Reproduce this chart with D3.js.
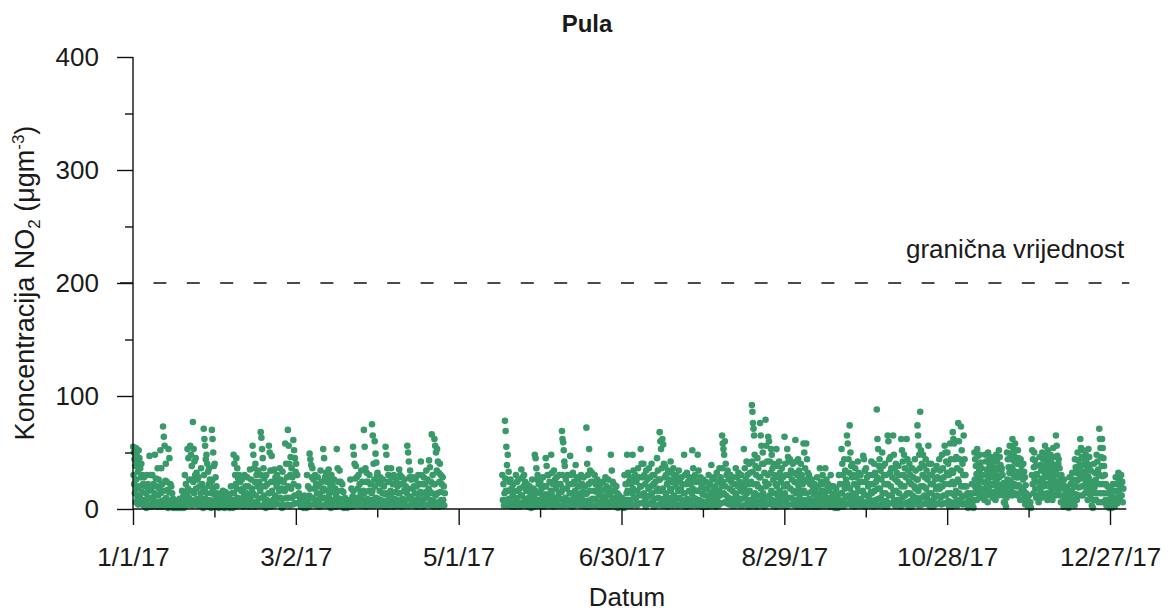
<!DOCTYPE html>
<html>
<head>
<meta charset="utf-8">
<script src="https://cdn.jsdelivr.net/npm/d3@7"></script>
<style>
  body { margin: 0; background: #fff; }
  svg text { font-family: "Liberation Sans", Arial, sans-serif; fill: #1a1a1a; }
</style>
</head>
<body>
<div id="chart"></div>
<script>
// NO2 readings per day (several readings through each day)
const jan = [
  [55,50,44,38,30,22,14,6],[54,48,40,33,26,18,10,4],[52,45,36,28,20,12,5],[40,30,22,15,8,3],
  [28,20,14,8,3,1],[30,22,16,9,4,2],[47,30,18,10,4,2],[30,22,14,8,3],[48,27,20,12,6,2],
  [36,26,18,12,6,2],[52,36,22,14,7,2],[73,64,56,25,16,8,3],[40,24,17,10,4,1],[53,45,22,15,7,2],
  [20,14,9,5,2,1],[8,5,3,1],[6,4,2,1],[9,6,3,1],[16,11,6,3,1],[30,22,14,8,3],[53,45,26,18,10,4],
  [56,48,38,26,16,8,3],[77,53,42,30,24,14,5],[45,32,26,18,9,3],[28,20,14,8,3],[36,22,15,9,4,1],
  [71,62,56,44,30,18,9,3],[48,40,33,22,14,6,2],[36,26,20,14,8,3,1],[70,62,50,38,25,16,7,2],[40,28,20,12,6,2]
];
const feb = [
  [14,10,6,3,1],[12,8,5,2],[16,11,7,3,1],[15,10,6,2],[13,9,5,2,1],[20,14,8,4,1],[48,40,30,22,14,7,2],
  [45,36,27,18,10,4],[30,24,16,9,3],[26,18,12,6,2],[30,20,14,8,3],[28,20,13,7,2],[35,26,18,10,4],
  [56,48,36,24,14,6,2],[40,30,20,12,5],[34,24,16,9,3],[68,63,53,45,30,20,10,3],[36,27,20,12,5,1],
  [30,22,14,8,3],[56,50,34,24,14,6,2],[47,34,24,16,8,3],[35,28,20,12,5],[30,24,16,10,4],
  [36,26,18,10,4,1],[33,24,16,9,3],[58,40,28,18,10,4],[70,56,40,30,20,10,3],[46,36,28,18,10,4]
];
const mar = [
  [61,52,45,33,22,12,5],[40,30,20,12,5],[14,9,5,2],[10,6,3,1],[12,8,4,1],[30,20,12,6,2],
  [49,44,39,28,18,10,4],[36,26,18,10,4],[30,22,14,8,3],[28,20,12,6,2],[34,24,16,9,3],
  [53,45,28,18,10,4],[32,24,16,9,3],[35,27,20,12,5,1],[30,22,15,8,3],[26,18,12,6,2],
  [53,36,24,16,8,3],[34,24,16,9,3],[22,15,9,4,1],[10,6,3,1],[8,5,2],[26,18,11,5,2],
  [55,48,40,27,16,8,3],[38,28,18,10,4],[30,22,14,8,3],[34,24,16,9,3],[70,55,36,24,14,6,2],
  [32,24,16,9,3],[30,22,14,8,3],[75,65,40,26,16,8,3],[60,49,41,30,20,10,4]
];
const apr = [
  [32,24,16,9,3],[28,22,14,8,3],[26,20,13,7,2],[55,48,36,24,14,6,2],[30,24,16,10,4],
  [36,28,22,14,7,2],[30,22,15,9,3],[26,20,14,8,3],[35,30,22,14,7,2],[28,22,16,9,3],
  [26,20,14,8,3],[56,50,42,28,18,9,3],[34,26,18,11,4],[28,20,14,8,3],[26,20,13,7,2],
  [30,22,15,9,3],[42,30,22,14,7,2],[28,22,15,9,3],[34,26,18,11,4],[43,37,24,16,8,3],
  [66,30,22,14,7,2],[62,56,50,34,22,12,5],[53,42,32,24,14,6,2],[40,30,22,15,8,3],[28,20,14,8,3]
];
const may = [
  [30,22,14,8,3],[78,69,55,39,27,16,8,3],[48,33,24,16,9,3],[26,18,12,6,2],[22,16,10,5,2],
  [30,24,16,9,3],[26,18,12,6,2],[35,28,20,12,5],[30,24,16,9,3],[22,16,10,5,2],[20,14,9,4,1],
  [26,18,12,6,2],[48,45,36,26,16,8,3],[30,22,14,8,3],[24,18,12,6,2]
];
const jun = [
  [28,20,13,7,2],[45,38,30,20,12,5],[30,24,16,9,3],[48,32,22,14,7,2],[34,26,18,10,4],
  [28,22,14,8,3],[30,22,15,9,3],[69,62,59,52,42,30,18,8,3],[38,26,18,10,4],[30,22,14,8,3],
  [47,30,22,14,7,2],[32,24,16,9,3],[39,28,20,12,5],[26,20,14,8,3],[30,22,15,9,3],[28,20,13,7,2],
  [72,40,30,22,14,7,2],[53,34,24,16,8,3],[32,24,16,9,3],[30,22,15,9,3],[26,18,12,6,2],
  [22,16,10,5,2],[24,17,11,5,2],[28,20,13,7,2],[26,18,12,6,2],[48,34,24,16,8,3],[22,16,10,5,2],
  [20,14,8,4,1],[12,8,4,2],[10,6,3,1]
];
const jul = [
  [30,22,14,8,3],[48,32,24,16,8,3],[28,22,14,8,3],[48,34,26,18,10,4],[30,24,16,9,3],
  [36,28,20,12,5],[53,40,28,20,12,5],[40,30,22,14,7,2],[34,26,18,10,4],[36,28,20,12,5],
  [40,30,22,14,7,2],[30,24,16,9,3],[45,34,26,18,10,4],[68,60,53,36,26,16,8,3],[62,57,40,28,18,9,3],
  [38,30,22,14,7,2],[34,26,18,10,4],[42,32,24,16,8,3],[36,28,20,12,5],[30,24,16,9,3],
  [34,26,18,10,4],[28,22,14,8,3],[48,30,22,14,7,2],[32,24,16,9,3],[28,22,14,8,3],
  [52,36,26,18,10,4],[30,24,16,9,3],[48,34,24,16,8,3],[28,20,13,7,2],[26,18,12,6,2],[24,18,12,6,2]
];
const aug = [
  [30,22,14,8,3],[39,26,18,10,4],[28,20,13,7,2],[32,24,16,9,3],[36,28,20,12,5],
  [65,58,53,48,36,24,14,6],[60,40,30,20,12,5],[34,26,18,10,4],[30,24,16,9,3],[28,22,14,8,3],
  [36,28,20,12,5],[32,24,16,9,3],[30,22,15,9,3],[53,36,26,18,10,4],[42,30,22,14,7,2],
  [40,32,24,16,8,3],[92,86,76,71,65,42,33,22,12,5],[48,38,30,22,14,7,2],[45,36,28,20,12,5],
  [76,65,56,40,28,18,9,3],[50,40,32,24,14,6,2],[79,56,42,30,20,10,4],[64,60,42,32,22,12,5],
  [53,48,36,26,16,8,3],[40,30,22,14,7,2],[53,38,28,20,12,5],[42,32,24,16,8,3],[36,28,20,12,5],
  [64,40,30,22,14,7,2],[53,46,42,30,20,10,4],[44,34,26,18,10,4]
];
const sep = [
  [40,32,24,16,8,3],[61,42,30,22,14,7,2],[44,34,26,18,10,4],[40,30,22,14,7,2],[58,50,36,26,16,8,3],
  [58,44,32,24,14,6,2],[30,22,15,9,3],[26,20,13,7,2],[22,16,10,5,2],[28,20,13,7,2],[36,24,16,9,3],
  [30,22,14,8,3],[36,26,18,10,4],[22,16,10,5,2],[30,20,13,7,2],[20,14,8,4,1],[18,12,7,3,1],
  [30,22,14,8,3],[53,40,30,22,14,7,2],[44,34,26,18,10,4],[65,58,44,32,22,12,5],[74,50,38,28,18,9,3],
  [40,30,22,14,7,2],[36,28,20,12,5],[42,32,24,16,8,3],[30,24,16,9,3],[47,44,34,24,14,6,2],
  [36,28,20,12,5],[30,22,15,9,3],[42,30,22,14,7,2]
];
const oct = [
  [40,32,24,16,8,3],[88,62,53,38,28,18,9,3],[44,34,26,18,10,4],[50,38,30,22,14,7,2],[40,30,22,14,7,2],
  [65,60,44,32,22,12,5],[46,36,28,20,12,5],[65,48,36,26,16,8,3],[40,32,24,16,8,3],[38,30,22,14,7,2],
  [62,52,42,30,20,10,4],[48,36,28,20,12,5],[62,44,34,24,14,6,2],[40,30,22,14,7,2],[36,28,20,12,5],
  [44,34,26,18,10,4],[74,65,56,48,36,26,16,8,3],[86,52,40,30,20,10,4],[48,38,28,20,12,5],
  [44,34,26,18,10,4],[56,40,30,22,14,7,2],[40,30,22,14,7,2],[34,26,18,10,4],[38,28,20,12,5],
  [44,34,26,18,10,4],[48,36,28,20,12,5],[56,50,42,32,22,12,5],[50,40,30,22,14,7,2],
  [58,44,34,24,14,6,2],[68,62,58,44,32,22,12,5],[60,46,36,26,16,8,3]
];
const nov = [
  [76,60,44,34,24,14,6],[73,52,40,30,20,10,4],[65,44,30,20,12,5],[20,14,8,4,1],[14,9,5,2],
  [22,14,8,4,1],[50,44,38,31,26,19,14,8],[53,47,40,34,27,22,16,10],[48,41,36,30,25,18,12],
  [30,24,17,12,8],[48,42,35,30,23,18,12,6],[50,43,38,32,27,20,14],[46,40,33,28,22,15,10],
  [44,37,32,26,21,14,8],[48,42,36,29,24,17,12],[52,46,39,34,28,21,14],[36,30,23,18,12,6],
  [22,16,10,5,2],[50,44,37,32,26,20,14],[56,49,44,37,32,25,18,12],[62,54,47,42,35,30,22,14],
  [58,52,45,40,33,28,20,12],[52,45,40,33,28,21,14,8],[44,38,31,26,19,14,8],[40,33,28,21,16,10,4],
  [14,8,4,2],[12,6,3,1],[62,52,44,37,30,22,14],[50,43,38,31,26,18,10],[30,24,18,12,6]
];
const dec = [
  [46,39,34,27,22,15,10],[50,44,37,32,25,20,12],[56,48,41,36,29,22,14,8],[52,45,40,33,28,20,12],
  [48,41,36,29,24,16,8],[54,46,39,34,27,20,12],[65,56,47,40,31,24,16],[44,36,28,20,12,6],
  [30,24,18,12,6,2],[26,20,14,8,3],[18,12,6,3,1],[28,22,16,10,4],[32,26,20,14,8,3],
  [44,37,32,25,20,13,8],[50,43,38,31,26,19,12],[62,54,46,39,34,27,20,12],[52,45,40,33,28,21,14],
  [48,41,36,29,24,16,8],[53,46,39,34,27,20,12],[24,16,8,3,1],[40,32,26,19,14,8],
  [48,42,35,30,22,14,6],[71,62,54,46,38,30,22,14,6],[62,54,45,38,29,22,14,6],[30,22,14,8,3],
  [20,14,8,4,1],[18,12,6,3,1],[22,16,10,5,2],[28,22,16,10,5],[32,26,20,14,8],[30,24,18,12,6]
];

// first day of each block (April ends early, readings resume 17 May)
const blockStarts = ["2017-01-01","2017-02-01","2017-03-01","2017-04-01","2017-05-17","2017-06-01",
  "2017-07-01","2017-08-01","2017-09-01","2017-10-01","2017-11-01","2017-12-01"];
const blocks = [jan, feb, mar, apr, may, jun, jul, aug, sep, oct, nov, dec];

const xTicks = ["2017-01-01","2017-03-02","2017-05-01","2017-06-30","2017-08-29","2017-10-28","2017-12-27"];
const xMinorTicks = ["2017-01-31","2017-04-01","2017-05-31","2017-07-30","2017-09-28","2017-11-27"];
const yTicks = [0, 100, 200, 300, 400];
const yMinorTicks = [50, 150, 250, 350];
const limitValue = 200;

const W = 1171, H = 612;
const green = "#379a68";
const parse = d3.utcParse("%Y-%m-%d");

const svg = d3.select("#chart").append("svg")
  .attr("width", W).attr("height", H)
  .attr("xmlns", "http://www.w3.org/2000/svg");

const x = d3.scaleUtc()
  .domain([parse("2017-01-01"), parse("2017-12-27")])
  .range([133, 1110]);
const y = d3.scaleLinear().domain([0, 400]).range([509, 57]);

// flatten readings; spread each day's readings over its hours (even slots first, then odd)
const points = [];
blocks.forEach((days, b) => {
  const start = parse(blockStarts[b]);
  days.forEach((vals, d) => {
    const n = vals.length, half = Math.ceil(n / 2);
    vals.forEach((v, i) => {
      const slot = i < half ? i * 2 : (i - half) * 2 + 1;
      const t = new Date(+d3.utcDay.offset(start, d) + (slot + 0.5) / n * 864e5);
      points.push({ t, v });
    });
  });
});

svg.append("g")
  .selectAll("circle")
  .data(points)
  .join("circle")
  .attr("cx", d => x(d.t))
  .attr("cy", d => y(d.v))
  .attr("r", 3.3)
  .attr("fill", green);

// limit line
const xEnd = x(d3.utcDay.offset(parse("2017-12-27"), 6.7));
svg.append("line")
  .attr("x1", 120).attr("x2", xEnd + 3)
  .attr("y1", y(limitValue)).attr("y2", y(limitValue))
  .attr("stroke", "#111").attr("stroke-width", 1.4)
  .attr("stroke-dasharray", "13,20.4");

svg.append("text")
  .attr("x", 906).attr("y", 258)
  .style("font-size", "26px")
  .text("granična vrijednost");

// axes
const axisColor = "#111";
const gx = svg.append("g").attr("transform", "translate(0,509)");
gx.call(d3.axisBottom(x).tickValues(xTicks.map(parse))
    .tickFormat(d3.utcFormat("%-m/%-d/%y")).tickSize(16).tickPadding(23));
gx.call(g => g.select(".domain").remove());
const gxm = svg.append("g").attr("transform", "translate(0,509)");
gxm.call(d3.axisBottom(x).tickValues(xMinorTicks.map(parse)).tickFormat("").tickSize(8.5));
gxm.call(g => g.select(".domain").remove());
svg.append("line").attr("x1", 133).attr("x2", xEnd).attr("y1", 509).attr("y2", 509)
  .attr("stroke", axisColor).attr("stroke-width", 1.4);

const gy = svg.append("g").attr("transform", "translate(133,0)");
gy.call(d3.axisLeft(y).tickValues(yTicks).tickSize(16).tickPadding(18));
gy.call(g => g.select(".domain").remove());
const gym = svg.append("g").attr("transform", "translate(133,0)");
gym.call(d3.axisLeft(y).tickValues(yMinorTicks).tickFormat("").tickSize(8));
gym.call(g => g.select(".domain").remove());
svg.append("line").attr("x1", 133).attr("x2", 133).attr("y1", 57).attr("y2", 509)
  .attr("stroke", axisColor).attr("stroke-width", 1.4);

svg.selectAll(".tick line").attr("stroke", axisColor).attr("stroke-width", 1.4);
svg.selectAll(".tick text")
  .style("font-size", "26px")
  .style("font-family", "'Liberation Sans', Arial, sans-serif")
  .attr("fill", "#1a1a1a");

// titles
svg.append("text")
  .attr("x", 587).attr("y", 32)
  .attr("text-anchor", "middle")
  .style("font-size", "24px").style("font-weight", "bold")
  .text("Pula");

svg.append("text")
  .attr("x", 627).attr("y", 606)
  .attr("text-anchor", "middle")
  .style("font-size", "26px")
  .text("Datum");

const yl = svg.append("text")
  .attr("transform", "translate(34,283) rotate(-90)")
  .attr("text-anchor", "middle")
  .style("font-size", "27px");
yl.append("tspan").text("Koncentracija NO");
yl.append("tspan").attr("dy", 6).style("font-size", "17px").text("2");
yl.append("tspan").attr("dy", -6).text(" (μgm");
yl.append("tspan").attr("dy", -10).style("font-size", "17px").text("-3");
yl.append("tspan").attr("dy", 10).text(")");
</script>
</body>
</html>
